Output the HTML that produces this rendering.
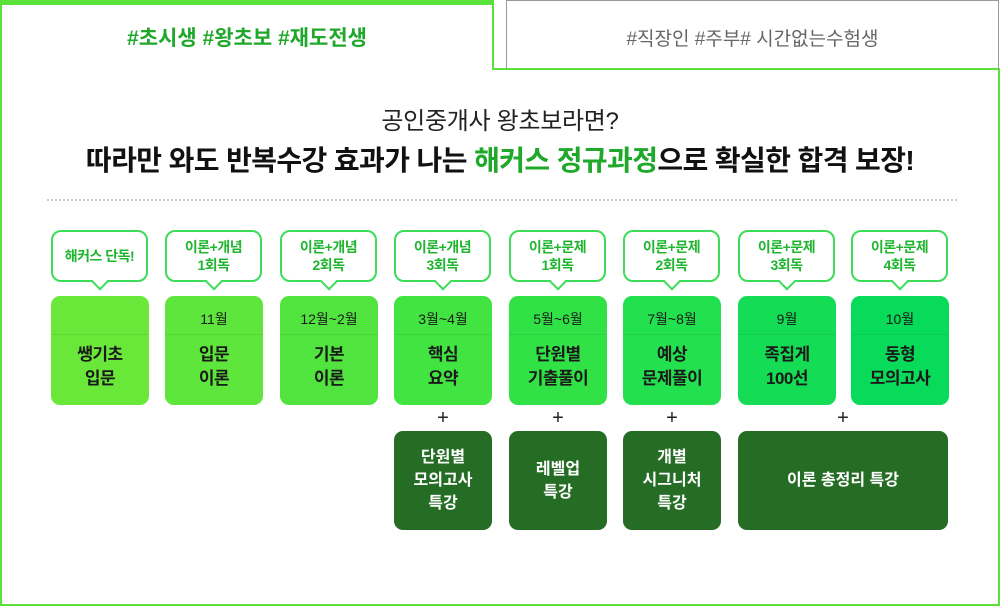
<!DOCTYPE html>
<html><head><meta charset="utf-8"><style>
*{margin:0;padding:0;box-sizing:border-box}
body{width:1000px;height:606px;background:#fff;position:relative;overflow:hidden;font-family:"Liberation Sans","Noto Sans CJK KR",sans-serif}
.a{position:absolute}
.bub{position:absolute;top:230px;width:97px;height:52px;border:2px solid #3ddc5a;border-radius:10px;background:#fff;color:#1fb52f;font-weight:bold;font-size:14px;line-height:18px;text-align:center;display:flex;align-items:center;justify-content:center;letter-spacing:-0.5px}
.bub:after{content:"";position:absolute;left:41px;bottom:-8px;width:10px;height:10px;background:#fff;border-right:2px solid #3ddc5a;border-bottom:2px solid #3ddc5a;transform:rotate(45deg)}
.box{position:absolute;top:296px;width:98px;height:109px;border-radius:9px;text-align:center;color:#1a1a1a}
.box .m{height:39px;line-height:46px;font-size:14px;border-bottom:1px solid rgba(0,0,0,0.07)}
.box .t{font-size:17px;font-weight:bold;line-height:24px;padding-top:8px;letter-spacing:-0.5px}
.dk{position:absolute;top:431px;height:99px;width:98px;border-radius:9px;background:#256d25;color:#fff;font-weight:bold;font-size:16px;line-height:23px;display:flex;align-items:center;justify-content:center;text-align:center}
.pl{position:absolute;top:407px;width:98px;text-align:center;font-size:20px;color:#222}
</style></head><body>
<div class="a" style="left:0;top:0;width:494px;height:5px;background:#5ae23a"></div>
<div class="a" style="left:0;top:0;width:2px;height:606px;background:#5ae23a"></div>
<div class="a" style="left:492px;top:0;width:2px;height:70px;background:#5ae23a"></div>
<div class="a" style="left:492px;top:68px;width:508px;height:2px;background:#5ae23a"></div>
<div class="a" style="left:998px;top:68px;width:2px;height:538px;background:#5ae23a"></div>
<div class="a" style="left:0;top:604px;width:1000px;height:2px;background:#5ae23a"></div>
<div class="a" style="left:506px;top:0;width:493px;height:69px;border:1px solid #9a9a9a;border-bottom:none"></div>
<div class="a" style="left:0;top:22px;width:494px;text-align:center;font-size:21px;font-weight:bold;color:#1fa82a">#초시생 #왕초보 #재도전생</div>
<div class="a" style="left:506px;top:24px;width:493px;text-align:center;font-size:19px;color:#666">#직장인 #주부# 시간없는수험생</div>
<div class="a" style="left:0;top:101px;width:1000px;text-align:center;font-size:24px;color:#222;letter-spacing:-0.3px">공인중개사 왕초보라면?</div>
<div class="a" style="left:0;top:139px;width:1000px;text-align:center;font-size:28px;font-weight:bold;color:#111;letter-spacing:-0.6px">따라만 와도 반복수강 효과가 나는 <span style="color:#1fa82a">해커스 정규과정</span>으로 확실한 합격 보장!</div>
<div class="a" style="left:47px;top:199px;width:910px;border-top:2px dotted #c8c8c8"></div>

<div class="bub" style="left:51px">해커스 단독!</div>
<div class="bub" style="left:165px">이론+개념<br>1회독</div>
<div class="bub" style="left:280px">이론+개념<br>2회독</div>
<div class="bub" style="left:394px">이론+개념<br>3회독</div>
<div class="bub" style="left:509px">이론+문제<br>1회독</div>
<div class="bub" style="left:623px">이론+문제<br>2회독</div>
<div class="bub" style="left:738px">이론+문제<br>3회독</div>
<div class="bub" style="left:851px">이론+문제<br>4회독</div>

<div class="box" style="left:51px;background:#6ae83a"><div class="m"></div><div class="t">쌩기초<br>입문</div></div>
<div class="box" style="left:165px;background:#5fe63c"><div class="m">11월</div><div class="t">입문<br>이론</div></div>
<div class="box" style="left:280px;background:#52e43e"><div class="m">12월~2월</div><div class="t">기본<br>이론</div></div>
<div class="box" style="left:394px;background:#42e442"><div class="m">3월~4월</div><div class="t">핵심<br>요약</div></div>
<div class="box" style="left:509px;background:#31e247"><div class="m">5월~6월</div><div class="t">단원별<br>기출풀이</div></div>
<div class="box" style="left:623px;background:#22e04e"><div class="m">7월~8월</div><div class="t">예상<br>문제풀이</div></div>
<div class="box" style="left:738px;background:#14dd55"><div class="m">9월</div><div class="t">족집게<br>100선</div></div>
<div class="box" style="left:851px;background:#08db5a"><div class="m">10월</div><div class="t">동형<br>모의고사</div></div>

<div class="pl" style="left:394px">+</div>
<div class="pl" style="left:509px">+</div>
<div class="pl" style="left:623px">+</div>
<div class="pl" style="left:794px">+</div>

<div class="dk" style="left:394px">단원별<br>모의고사<br>특강</div>
<div class="dk" style="left:509px">레벨업<br>특강</div>
<div class="dk" style="left:623px">개별<br>시그니처<br>특강</div>
<div class="dk" style="left:738px;width:210px">이론 총정리 특강</div>
</body></html>
